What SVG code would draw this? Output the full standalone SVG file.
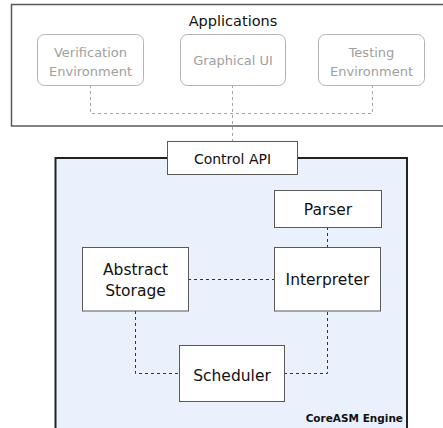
<svg xmlns="http://www.w3.org/2000/svg" width="443" height="428" viewBox="0 0 443 428">
<style>
text{font-family:"DejaVu Sans",Verdana,sans-serif;text-anchor:middle}
.app{fill:#fff;stroke:#b3b3b3;stroke-width:1}
.apptxt{fill:#a0a0a0;font-size:13px}
.node{fill:#fff;stroke:#595959;stroke-width:1}
.ntxt{fill:#111;font-size:15.5px}
.dg{fill:none;stroke:#a6a6a6;stroke-width:1;stroke-dasharray:3 3}
.dk{fill:none;stroke:#333;stroke-width:1;stroke-dasharray:3 3}
</style>
<g id="applications">
<rect x="11.5" y="4.5" width="440" height="121.5" fill="#fff" stroke="#5a5a5a" stroke-width="1.5"/>
<text x="233" y="26" font-size="14.5px" fill="#111">Applications</text>
</g>
<g id="engine">
<rect x="55.5" y="158" width="351.5" height="290" fill="#eaf1fd" stroke="#222" stroke-width="2"/>
<text x="403" y="421.5" font-size="10.5px" font-weight="bold" fill="#111" style="text-anchor:end">CoreASM Engine</text>
</g>
<g id="connectors">
<path class="dg" d="M90.5,85 V113.5 H372.5 V85"/>
<path class="dg" d="M232.5,85 V141"/>
<path class="dk" d="M327.5,227 V247"/>
<path class="dk" d="M188,279.5 H274"/>
<path class="dk" d="M135.5,311 V373.5 H179"/>
<path class="dk" d="M284,373.5 H327.5 V311"/>
</g>
<g id="verification">
<rect class="app" x="37.5" y="34.5" width="106" height="51" rx="7"/>
<text class="apptxt" x="90.5" y="57">Verification</text>
<text class="apptxt" x="90.5" y="76">Environment</text>
</g>
<g id="graphical-ui">
<rect class="app" x="180.5" y="34.5" width="105" height="51" rx="7"/>
<text class="apptxt" x="233" y="65">Graphical UI</text>
</g>
<g id="testing">
<rect class="app" x="318.5" y="34.5" width="106" height="51" rx="7"/>
<text class="apptxt" x="371.5" y="57">Testing</text>
<text class="apptxt" x="371.5" y="76">Environment</text>
</g>
<g id="control-api">
<rect class="node" x="167.5" y="141.5" width="130" height="33" stroke="#444"/>
<text x="232.5" y="164" font-size="14px" fill="#111">Control API</text>
</g>
<g id="parser">
<rect class="node" x="274.5" y="190.5" width="107" height="37"/>
<text class="ntxt" x="328" y="214.5">Parser</text>
</g>
<g id="interpreter">
<rect class="node" x="274.5" y="247.5" width="106" height="63.5"/>
<text class="ntxt" x="327.5" y="284.5">Interpreter</text>
</g>
<g id="abstract-storage">
<rect class="node" x="82.5" y="247.5" width="106" height="63.5"/>
<text class="ntxt" x="135.5" y="275">Abstract</text>
<text class="ntxt" x="135.5" y="296">Storage</text>
</g>
<g id="scheduler">
<rect class="node" x="179.5" y="345.5" width="105" height="56"/>
<text class="ntxt" x="232" y="380.5">Scheduler</text>
</g>
</svg>
